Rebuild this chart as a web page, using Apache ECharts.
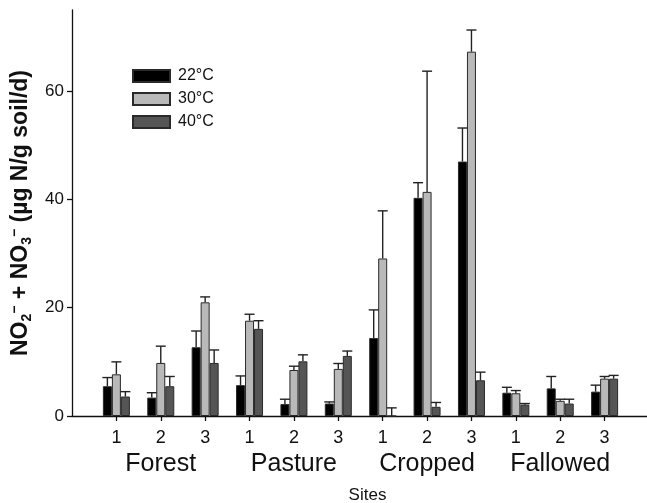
<!DOCTYPE html>
<html>
<head>
<meta charset="utf-8">
<script src="https://cdn.jsdelivr.net/npm/echarts@6/dist/echarts.min.js"></script>
<style>
html,body{margin:0;padding:0;background:#fff;}
#c{width:647px;height:503px;}
</style>
</head>
<body>
<div id="c"></div>
<script>
// ---- data ----
var groups = ['Forest', 'Pasture', 'Cropped', 'Fallowed'];
var sites = ['1', '2', '3'];
var seriesNames = ['22°C', '30°C', '40°C'];
var t22 = [5.5, 3.4, 12.7, 5.7, 2.2, 2.3, 14.4, 40.3, 47.0, 4.3, 5.1, 4.5];
var t30 = [7.7, 9.8, 21.0, 17.6, 8.5, 8.7, 29.1, 41.4, 67.3, 4.2, 2.8, 6.9];
var t40 = [3.6, 5.5, 9.8, 16.1, 10.1, 11.1, 0, 1.7, 6.6, 2.1, 2.3, 6.9];
var e22 = [1.6, 0.9, 3.0, 1.7, 0.9, 0.3, 5.2, 2.8, 6.2, 1.0, 2.2, 1.2];
var e30 = [2.3, 3.1, 1.0, 1.2, 0.7, 1.0, 8.8, 22.3, 4.0, 0.5, 0.3, 0.4];
var e40 = [0.9, 1.8, 2.4, 1.5, 1.2, 0.9, 1.5, 0.8, 1.5, 0.2, 0.8, 0.6];
var yTicks = [0, 20, 40, 60];

// ---- build categories (padding slot on each side) ----
var categories = [''];
var catSite = [''];
var catGroup = [''];
groups.forEach(function (g) {
  sites.forEach(function (s, j) {
    categories.push(g + '-' + s);
    catSite.push(s);
    catGroup.push(j === 1 ? g : '');
  });
});
categories.push('');
catSite.push('');
catGroup.push('');

var values = [t22, t30, t40];
var errors = [e22, e30, e40];
var fills = ['#000000', '#b9b9b9', '#555555'];
var BW = 9;

var series = [];
values.forEach(function (vals, k) {
  series.push({
    type: 'bar',
    name: seriesNames[k],
    barWidth: BW,
    barGap: '0%',
    itemStyle: { color: fills[k], borderColor: '#2a2a2a', borderWidth: 1 },
    data: vals.map(function (v, i) { return [i + 1, v]; }),
    z: 2
  });
});
values.forEach(function (vals, k) {
  series.push({
    type: 'custom',
    name: 'err' + k,
    silent: true,
    z: 3,
    data: vals.map(function (v, i) { return [i + 1, v, v + errors[k][i]]; }),
    renderItem: function (params, api) {
      var off = (k - 1) * BW;
      var p0 = api.coord([api.value(0), api.value(1)]);
      var p1 = api.coord([api.value(0), api.value(2)]);
      var x = p0[0] + off;
      var st = { stroke: '#222', lineWidth: 1.4 };
      return {
        type: 'group',
        children: [
          { type: 'line', shape: { x1: x, y1: p0[1], x2: x, y2: p1[1] }, style: st },
          { type: 'line', shape: { x1: x - 5, y1: p1[1], x2: x + 5, y2: p1[1] }, style: st }
        ]
      };
    }
  });
});

var chart = echarts.init(document.getElementById('c'), null, { renderer: 'canvas' });
var FF = '"Liberation Sans", Arial, sans-serif';
chart.setOption({
  animation: false,
  textStyle: { fontFamily: FF },
  grid: { left: 72, right: -2, top: 10, bottom: 87, containLabel: false, outerBoundsMode: 'none' },
  legend: {
    data: seriesNames.map(function (n) { return { name: n, icon: 'rect' }; }),
    orient: 'vertical',
    left: 127,
    top: 63,
    itemWidth: 37,
    itemHeight: 12,
    itemGap: 7,
    textStyle: { fontSize: 16, color: '#111', lineHeight: 12, fontFamily: FF, padding: [0, 0, 0, 3] }
  },
  xAxis: {
    type: 'category',
    data: categories,
    boundaryGap: false,
    name: 'Sites',
    nameLocation: 'middle',
    nameGap: 71,
    nameTextStyle: { fontSize: 17, color: '#111', fontFamily: FF, padding: [0, 0, 0, 14] },
    axisLine: { lineStyle: { color: '#111', width: 1.3 } },
    axisTick: {
      length: 5,
      lineStyle: { color: '#111', width: 1.3 },
      interval: function (idx) { return idx > 0 && idx < categories.length - 1; }
    },
    axisLabel: {
      interval: 0,
      margin: 12,
      color: '#111',
      formatter: function (val, idx) {
        if (!catSite[idx]) return '';
        if (catGroup[idx]) return '{d|' + catSite[idx] + '}\n{g|' + catGroup[idx] + '}';
        return '{d|' + catSite[idx] + '}';
      },
      rich: {
        d: { fontSize: 18, lineHeight: 20, color: '#111', fontFamily: FF },
        g: { fontSize: 25, lineHeight: 32, color: '#111', fontFamily: FF }
      }
    },
    splitLine: { show: false }
  },
  yAxis: {
    type: 'value',
    min: 0,
    max: 75,
    name: '{t|NO}{s|2}{p|−}{t| + NO}{s|3}{p|−}{t| (µg N/g soil/d)}',
    nameLocation: 'middle',
    nameGap: 38,
    nameTextStyle: {
      rich: {
        t: { fontSize: 23, fontWeight: 'bold', color: '#111', fontFamily: FF, lineHeight: 26 },
        s: { fontSize: 14, fontWeight: 'bold', color: '#111', fontFamily: FF, verticalAlign: 'bottom', lineHeight: 26 },
        p: { fontSize: 14, fontWeight: 'bold', color: '#111', fontFamily: FF, verticalAlign: 'top', lineHeight: 26 }
      }
    },
    axisLine: { show: true, lineStyle: { color: '#111', width: 1.3 } },
    axisTick: { show: true, length: 5, lineStyle: { color: '#111', width: 1.3 }, customValues: yTicks },
    axisLabel: { fontSize: 17, color: '#111', margin: 8, customValues: yTicks },
    splitLine: { show: false }
  },
  series: series
});
</script>
</body>
</html>
